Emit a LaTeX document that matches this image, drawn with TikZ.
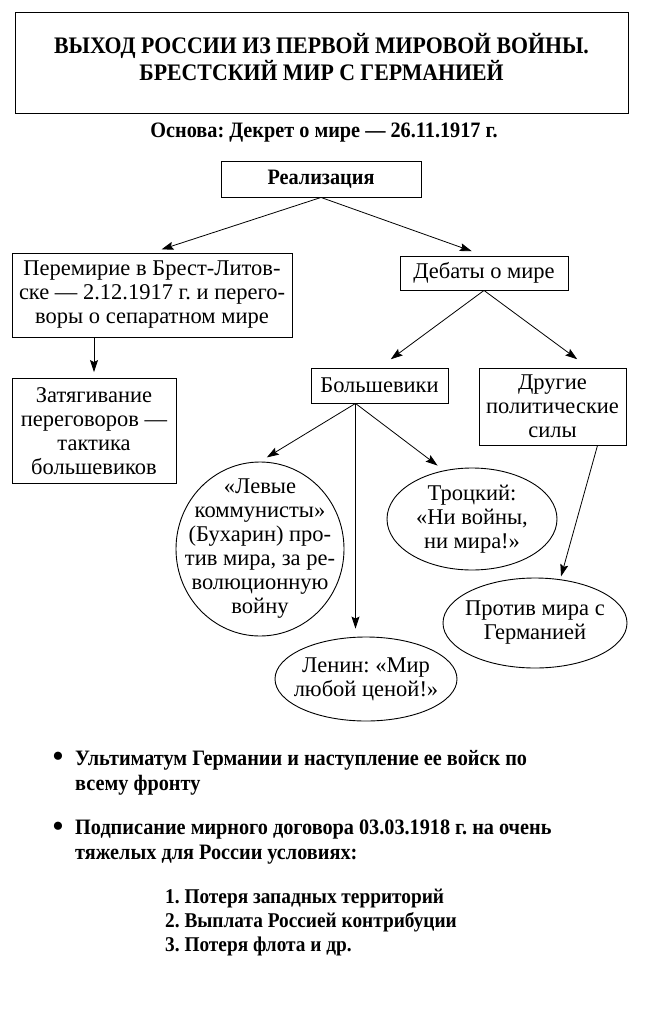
\documentclass[tikz,border=0pt]{standalone}
\usepackage{fontspec}
\setmainfont{Liberation Serif}
\newfontfamily\condfont{Liberation Serif}[FakeStretch=0.92]
\usetikzlibrary{shapes.geometric,arrows.meta}
\frenchspacing

\tikzset{
  box/.style={draw, line width=0.9pt, align=center, inner sep=0pt,
    font=\fontsize{22.5}{24}\selectfont},
  oval/.style={draw, ellipse, line width=0.9pt, align=center,
    inner xsep=-25pt, inner ysep=-12pt, font=\fontsize{22.5}{24}\selectfont},
  arr/.style={-{Stealth[length=12pt,width=8pt,inset=2pt]}, line width=0.8pt},
  listtext/.style={font=\condfont\bfseries\fontsize{22}{25}\selectfont, align=left, inner sep=0pt},
  dot/.style={font=\fontsize{34}{34}\selectfont, inner sep=0pt},
}

\begin{document}
\begin{tikzpicture}[x=1pt,y=-1pt]
\useasboundingbox (0,0) rectangle (671,1024);
% heading
\node[draw, line width=0.9pt, minimum width=613pt, minimum height=101pt] (titleframe) at (321.5,62.5) {};
\node[align=center, inner sep=0pt, font=\condfont\bfseries\fontsize{23.7}{24}\selectfont] (title) at (321.5,57)
  {ВЫХОД РОССИИ ИЗ ПЕРВОЙ МИРОВОЙ ВОЙНЫ.\\ БРЕСТСКИЙ МИР С ГЕРМАНИЕЙ};
\node[font=\condfont\bfseries\fontsize{22}{24}\selectfont] (osnova) at (324,133)
  {Основа: Декрет о мире — 26.11.1917 г.};

% boxes
\node[box, minimum width=200pt, minimum height=36pt, font=\condfont\bfseries\fontsize{22}{24}\selectfont]
  (real) at (321,179) {Реализация};
\node[box, minimum width=280pt, minimum height=84pt] (perem) at (152,295)
  {Перемирие в Брест-Литов-\\ске — 2.12.1917 г. и перего-\\воры о сепаратном мире};
\node[box, minimum width=168pt, minimum height=34pt] (debaty) at (484,273) {Дебаты о мире};
\node[box, minimum width=164pt, minimum height=105pt] (zatyag) at (94,431)
  {Затягивание\\переговоров —\\тактика\\большевиков};
\node[box, minimum width=137pt, minimum height=35pt] (bolsh) at (379.5,385.5) {Большевики};
\node[box, minimum width=147pt, minimum height=77pt] (drugie) at (552.5,406.5)
  {Другие\\политические\\силы};

% ellipses
\node[oval, minimum width=168pt, minimum height=174pt] (levye) at (260,549)
  {«Левые\\коммунисты»\\(Бухарин) про-\\тив мира, за ре-\\волюционную\\войну};
\node[oval, minimum width=170pt, minimum height=102pt] (trotsky) at (472,519)
  {Троцкий:\\«Ни войны,\\ни мира!»};
\node[oval, minimum width=182pt, minimum height=84pt] (lenin) at (366,679)
  {Ленин: «Мир\\любой ценой!»};
\node[oval, minimum width=184pt, minimum height=90pt] (protiv) at (535,623)
  {Против мира с\\Германией};

% arrows
\coordinate (bfork) at ([xshift=-24pt]bolsh.south);
\draw[arr, shorten >=10pt] (real.south) -- (perem.north);
\draw[arr, shorten >=13pt] (real.south) -- (debaty.north);
\draw[arr, shorten >=6pt] (zatyag.north |- perem.south) -- (zatyag.north);
\draw[arr, shorten >=14pt] (debaty.south) -- (bolsh.north);
\draw[arr, shorten >=14pt] (debaty.south) -- ([xshift=36pt]drugie.north);
\draw[arr, shorten >=8pt] (bfork) -- (levye.north);
\draw[arr, shorten >=8pt] (bfork) -- (trotsky.120);
\draw[arr, shorten >=8pt] (bfork) -- (bfork |- lenin.north);
\draw[arr, shorten >=3pt] ([xshift=45pt]drugie.south) -- (protiv.60);

% outcome
\node[dot] (dotA) at (58,760) {•};
\node[listtext, anchor=north west] (ultim) at (75,750)
  {Ультиматум Германии и наступление ее войск по\\всему фронту};
\node[dot] (dotB) at (58,830) {•};
\node[listtext, anchor=north west] (dogovor) at (75,820)
  {Подписание мирного договора 03.03.1918 г. на очень\\тяжелых для России условиях:};
\node[listtext, anchor=north west, font=\condfont\bfseries\fontsize{21}{24}\selectfont] (usloviya) at (165,889)
  {1. Потеря западных территорий\\2. Выплата Россией контрибуции\\3. Потеря флота и др.};
\end{tikzpicture}
\end{document}
